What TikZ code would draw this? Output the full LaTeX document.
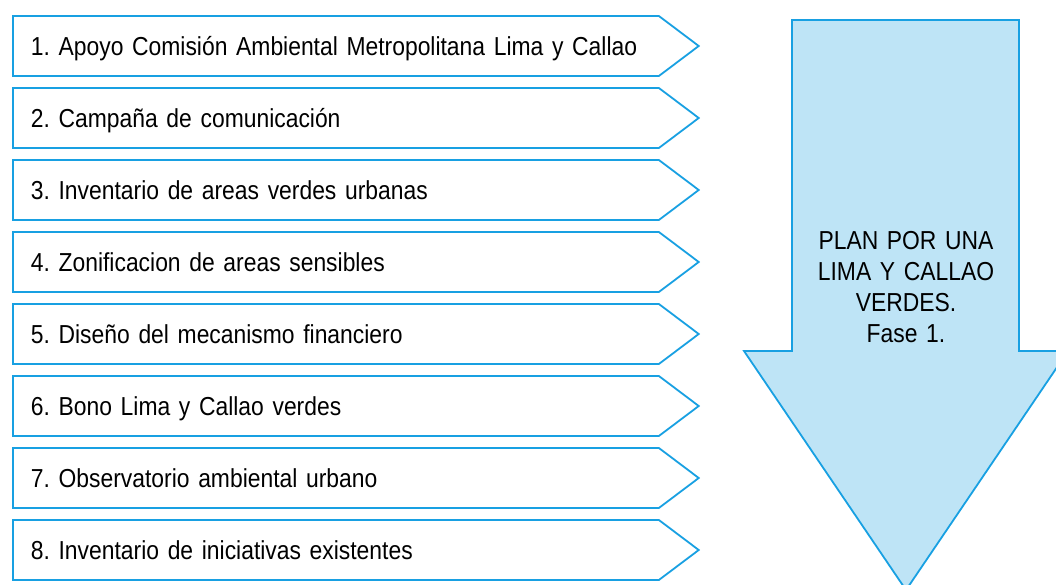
\documentclass[tikz,border=0pt]{standalone}
\usepackage{fontspec}
\setmainfont[FakeStretch=0.88]{Liberation Sans}
\usetikzlibrary{positioning, shapes.symbols}

\definecolor{stepblue}{RGB}{24,160,226}
\definecolor{arrowfill}{RGB}{190,228,246}

\frenchspacing
\begin{document}
\begin{tikzpicture}[
        x=1pt, y=-1pt,
        font=\fontsize{26}{31}\selectfont,
        stepbox/.style={signal, signal to=east, signal pointer angle=74,
          draw=stepblue, fill=white, line width=1.8pt, text width=610pt,
          align=left, inner xsep=18pt, inner ysep=0pt, minimum
          height=60pt, anchor=west, text depth=0pt},
        bigarrow/.style={draw=stepblue, fill=arrowfill, line width=1.8pt},
        plan/.style={text width=200pt, align=center, inner sep=0pt}
      ]
      \useasboundingbox (0,0) rectangle (1056,585);

      % Big arrow on the right
      \draw [bigarrow] (792,20) -- (1019,20) -- (1019,351) -- (1068,351)
      -- (906,590) -- (744,351) -- (792,351) -- cycle;
      \node [plan] (plan) at (906,287) {PLAN POR UNA\\LIMA Y CALLAO\\VERDES.\\Fase 1.};

      % Steps
      \node [stepbox] (s1) at (12,46) {1. Apoyo Comisión Ambiental Metropolitana Lima y Callao};
      \node [stepbox] (s2) at (12,118) {2. Campaña de comunicación};
      \node [stepbox] (s3) at (12,190) {3. Inventario de areas verdes urbanas};
      \node [stepbox] (s4) at (12,262) {4. Zonificacion de areas sensibles};
      \node [stepbox] (s5) at (12,334) {5. Diseño del mecanismo financiero};
      \node [stepbox] (s6) at (12,406) {6. Bono Lima y Callao verdes};
      \node [stepbox] (s7) at (12,478) {7. Observatorio ambiental urbano};
      \node [stepbox] (s8) at (12,550) {8. Inventario de iniciativas existentes};

    \end{tikzpicture}
\end{document}
